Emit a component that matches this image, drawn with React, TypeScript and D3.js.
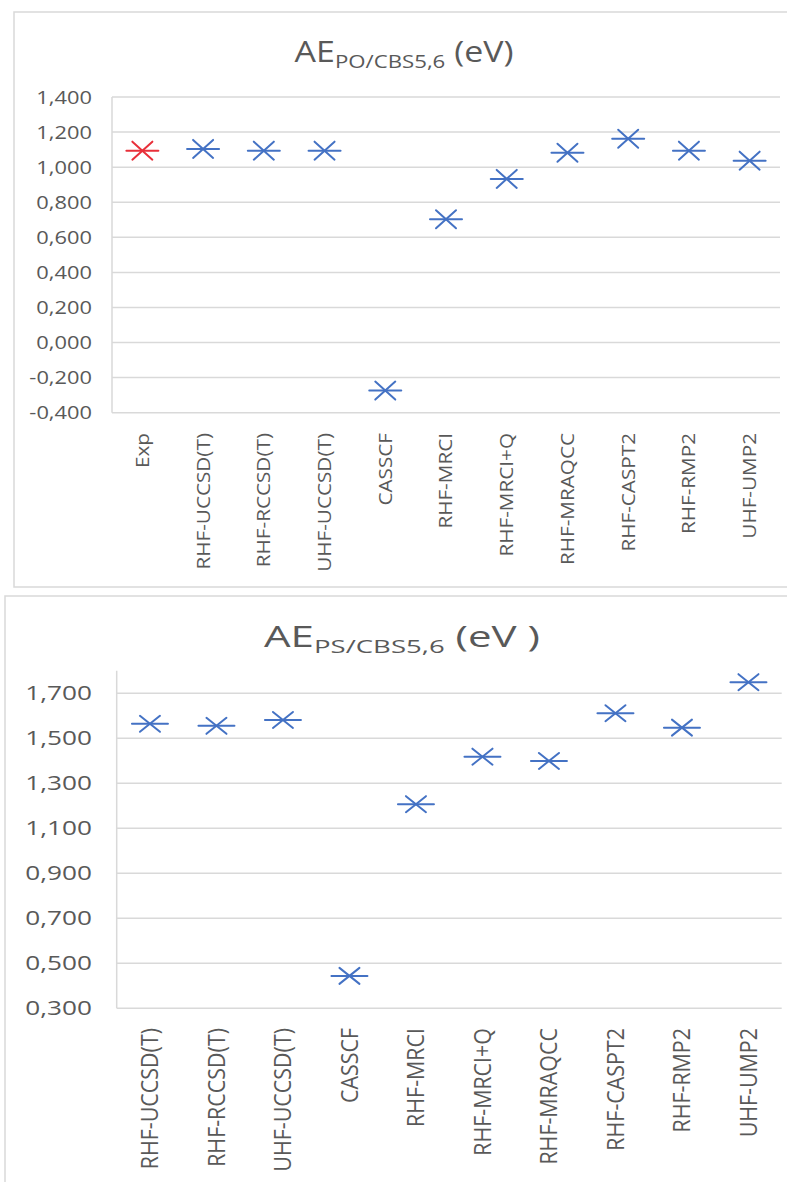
import React from "react";
import * as d3 from "d3";

const topCategories = ["Exp", "RHF-UCCSD(T)", "RHF-RCCSD(T)", "UHF-UCCSD(T)", "CASSCF", "RHF-MRCI", "RHF-MRCI+Q", "RHF-MRAQCC", "RHF-CASPT2", "RHF-RMP2", "UHF-UMP2"];
const topValues = [1.094, 1.104, 1.094, 1.094, -0.274, 0.703, 0.933, 1.082, 1.162, 1.094, 1.037];
const topTicks = [-0.4, -0.2, 0.0, 0.2, 0.4, 0.6, 0.8, 1.0, 1.2, 1.4];

const bottomCategories = ["RHF-UCCSD(T)", "RHF-RCCSD(T)", "UHF-UCCSD(T)", "CASSCF", "RHF-MRCI", "RHF-MRCI+Q", "RHF-MRAQCC", "RHF-CASPT2", "RHF-RMP2", "UHF-UMP2"];
const bottomValues = [1.564, 1.555, 1.581, 0.444, 1.207, 1.418, 1.399, 1.611, 1.547, 1.749];
const bottomTicks = [0.3, 0.5, 0.7, 0.9, 1.1, 1.3, 1.5, 1.7];

const FONT = "'Open Sans', 'DejaVu Sans', sans-serif";
const GREY = "#595959";
const GRID = "#D9D9D9";
const BLUE = "#4472C4";
const RED = "#E8303A";

const fmt = (v: number) => v.toFixed(3).replace(".", ",");

function Star({ x, y, color, hw, dx, dy }: any) {
  return (
    <g stroke={color} strokeWidth={2} strokeLinecap="round">
      <line x1={x - hw} y1={y} x2={x + hw} y2={y} />
      <line x1={x - dx} y1={y - dy} x2={x + dx} y2={y + dy} />
      <line x1={x - dx} y1={y + dy} x2={x + dx} y2={y - dy} />
    </g>
  );
}

function Chart({ cfg }: any) {
  const { categories, values, ticks, domain, left, right, top, bottom, axisTop, box, title, titleX, titleY, titleScale, tickFont, tickScale, labelFont, labelScaleX, labelScaleY, labelTop, colors, hw, dx, dy, tickRight } = cfg;
  const x = d3.scaleBand<string>().domain(categories).range([left, right]);
  const y = d3.scaleLinear().domain(domain).range([bottom, top]);
  return (
    <g>
      <rect x={box.x} y={box.y} width={box.w} height={box.h} fill="#fff" stroke={GRID} strokeWidth={1.5} />
      <text transform={`translate(${titleX},${titleY}) scale(${titleScale},1)`} textAnchor="middle" fontFamily={FONT} fill={GREY} fontSize={29}>
        <tspan>AE</tspan>
        <tspan fontSize={19} dy={6}>{title.sub}</tspan>
        <tspan dy={-6}>{title.tail}</tspan>
      </text>
      {ticks.map((t: number) => (
        <line key={"g" + t} x1={left} x2={right} y1={y(t)} y2={y(t)} stroke={GRID} strokeWidth={1.5} />
      ))}
      <line x1={left} x2={left} y1={axisTop} y2={bottom} stroke={GRID} strokeWidth={1.5} />
      {ticks.map((t: number) => (
        <text key={"t" + t} transform={`translate(${tickRight},${y(t)}) scale(${tickScale},1)`} textAnchor="end" dy="0.35em" fontFamily={FONT} fontSize={tickFont} fill={GREY}>
          {fmt(t)}
        </text>
      ))}
      {categories.map((c: string) => (
        <text key={"l" + c} transform={`translate(${(x(c) as number) + x.bandwidth() / 2},${labelTop}) scale(${labelScaleX},${labelScaleY}) rotate(-90)`} textAnchor="end" dy="0.35em" fontFamily={FONT} fontSize={labelFont} fill={GREY}>
          {c}
        </text>
      ))}
      {values.map((v: number, i: number) => (
        <Star key={"s" + i} x={(x(categories[i]) as number) + x.bandwidth() / 2} y={y(v)} color={colors[i]} hw={hw} dx={dx} dy={dy} />
      ))}
    </g>
  );
}

export default function App() {
  const topCfg = {
    categories: topCategories,
    values: topValues,
    ticks: topTicks,
    domain: [-0.4, 1.4],
    left: 112, right: 780, top: 97, bottom: 412.7, axisTop: 97,
    box: { x: 14, y: 12, w: 800, h: 575 },
    title: { sub: "PO/CBS5,6", tail: " (eV)" },
    titleX: 404, titleY: 62, titleScale: 1.17,
    tickFont: 19, tickScale: 1.15, tickRight: 92,
    labelFont: 19, labelScaleX: 0.97, labelScaleY: 1.09, labelTop: 433,
    colors: topCategories.map((c) => (c === "Exp" ? RED : BLUE)),
    hw: 16, dx: 10, dy: 9,
  };
  const bottomCfg = {
    categories: bottomCategories,
    values: bottomValues,
    ticks: bottomTicks,
    domain: [0.3, 1.8],
    left: 116.7, right: 781.7, top: 670.7, bottom: 1008.3, axisTop: 670.7,
    box: { x: 5, y: 596, w: 800, h: 600 },
    title: { sub: "PS/CBS5,6", tail: " (eV )" },
    titleX: 402, titleY: 647, titleScale: 1.45,
    tickFont: 20, tickScale: 1.31, tickRight: 92,
    labelFont: 20.5, labelScaleX: 1.15, labelScaleY: 1.045, labelTop: 1028,
    colors: bottomCategories.map(() => BLUE),
    hw: 18, dx: 10, dy: 8,
  };
  return (
    <svg width={787} height={1182} style={{ position: "absolute", left: 0, top: 0, background: "#fff" }}>
      <rect x={0} y={0} width={787} height={1182} fill="#fff" />
      <Chart cfg={topCfg} />
      <Chart cfg={bottomCfg} />
    </svg>
  );
}
